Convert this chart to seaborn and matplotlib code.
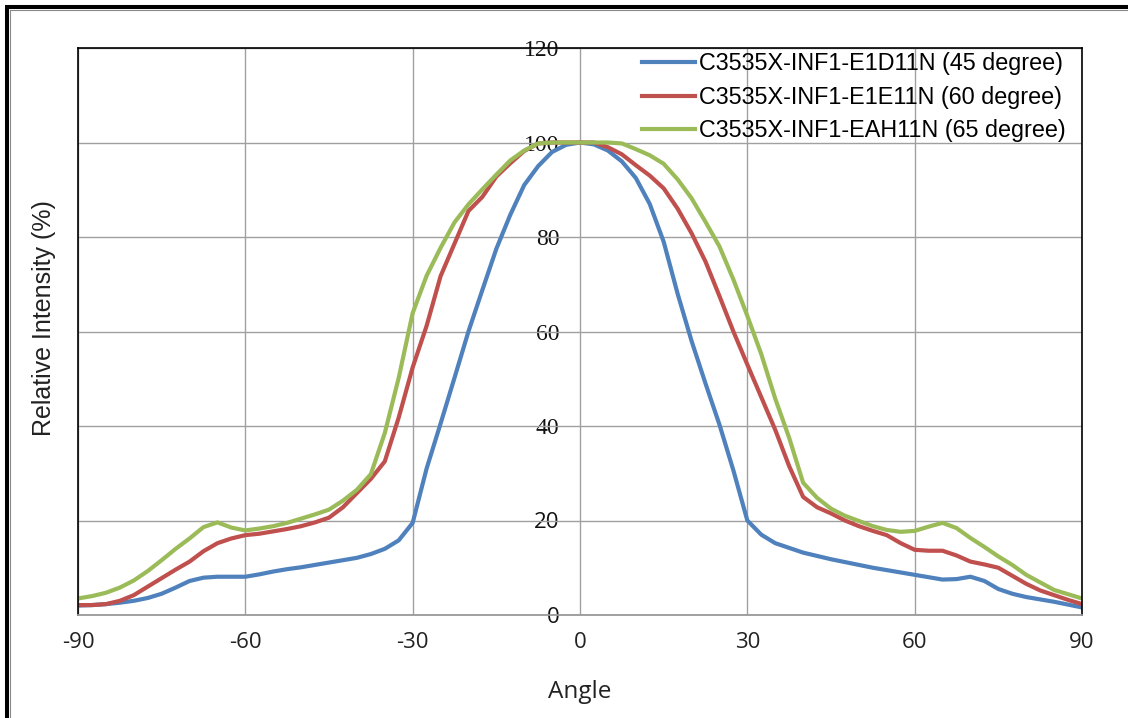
import numpy as np
import pandas as pd
import matplotlib
matplotlib.use("Agg")
import matplotlib.pyplot as plt
from matplotlib.lines import Line2D
import seaborn as sns

# ---------------- data ----------------
angles = np.arange(-90, 90.1, 2.5)

series_names = [
    "C3535X-INF1-E1D11N (45 degree)",
    "C3535X-INF1-E1E11N (60 degree)",
    "C3535X-INF1-EAH11N (65 degree)",
]

blue_45 = [2.0, 2.1, 2.3, 2.6, 3.0, 3.6, 4.5, 5.8, 7.2, 7.9,
           8.1, 8.1, 8.1, 8.6, 9.2, 9.7, 10.1, 10.6, 11.1, 11.6,
           12.1, 12.9, 14.0, 15.8, 19.5, 31.0, 40.5, 50.2, 60.0, 68.8,
           77.5, 84.7, 91.0, 95.0, 98.0, 99.5, 100.0, 99.6, 98.3, 96.0,
           92.5, 87.0, 79.0, 68.0, 58.0, 49.0, 40.3, 30.6, 20.0, 17.0,
           15.2, 14.2, 13.2, 12.5, 11.8, 11.2, 10.6, 10.0, 9.5, 9.0,
           8.5, 8.0, 7.5, 7.6, 8.1, 7.2, 5.5, 4.5, 3.8, 3.3,
           2.8, 2.2, 1.6]

red_60 = [2.1, 2.1, 2.3, 3.0, 4.2, 6.0, 7.8, 9.6, 11.3, 13.5,
          15.2, 16.2, 16.9, 17.2, 17.7, 18.2, 18.8, 19.6, 20.6, 22.8,
          25.8, 28.8, 32.5, 41.8, 52.4, 61.2, 71.7, 78.6, 85.5, 88.5,
          92.8, 95.6, 98.2, 99.8, 100.0, 100.0, 100.0, 100.0, 99.0, 97.5,
          95.2, 93.0, 90.3, 86.0, 80.8, 74.8, 67.5, 60.0, 53.0, 46.1,
          39.2, 31.5, 25.0, 22.8, 21.5, 20.0, 18.8, 17.8, 16.9, 15.2,
          13.8, 13.6, 13.6, 12.6, 11.3, 10.7, 10.0, 8.3, 6.6, 5.2,
          4.2, 3.2, 2.3]

green_65 = [3.5, 4.0, 4.7, 5.8, 7.3, 9.3, 11.6, 14.0, 16.2, 18.6,
            19.6, 18.5, 17.9, 18.3, 18.8, 19.5, 20.4, 21.3, 22.3, 24.2,
            26.5, 29.8, 38.5, 50.2, 63.9, 71.8, 77.7, 83.1, 86.9, 90.1,
            93.2, 96.2, 98.3, 99.8, 100.0, 100.0, 100.0, 100.0, 100.0, 99.8,
            98.6, 97.3, 95.5, 92.2, 88.2, 83.2, 78.0, 71.0, 63.3, 55.2,
            45.8, 37.5, 28.0, 24.8, 22.5, 21.0, 19.9, 18.8, 18.0, 17.6,
            17.8, 18.7, 19.5, 18.4, 16.3, 14.4, 12.4, 10.6, 8.5, 6.9,
            5.3, 4.4, 3.5]

x_ticks = [-90, -60, -30, 0, 30, 60, 90]
y_ticks = [0, 20, 40, 60, 80, 100, 120]
colors = ["#4F81BD", "#C0504D", "#9BBB59"]

df = pd.concat([
    pd.DataFrame({"Angle": angles, "Intensity": vals, "Series": name})
    for name, vals in zip(series_names, [blue_45, red_60, green_65])
], ignore_index=True)

# ---------------- figure ----------------
plt.rcParams["axes.unicode_minus"] = False
fig = plt.figure(figsize=(11.28, 7.18), dpi=100)
fig.patch.set_facecolor("white")
ax = fig.add_axes([78 / 1128, 103 / 718, 1004 / 1128, 567 / 718])

sns.lineplot(data=df, x="Angle", y="Intensity", hue="Series",
             hue_order=series_names, palette=colors, linewidth=3.0,
             estimator=None, sort=False, ax=ax, legend=True)
for ln in ax.get_lines():
    ln.set_solid_joinstyle("round")

ax.set_xlim(-90, 90)
ax.set_ylim(0, 120)
ax.set_xticks(x_ticks)
ax.set_yticks(y_ticks)
ax.set_yticklabels([])
ax.grid(True, color="#a0a0a0", linewidth=1.0)
ax.set_axisbelow(True)
ax.tick_params(axis="both", length=0)
ax.tick_params(axis="x", pad=12)
for lab in ax.get_xticklabels():
    lab.set_fontfamily("Open Sans")
    lab.set_fontsize(16)
    lab.set_color("#222222")

for side in ["left", "top", "right"]:
    ax.spines[side].set_color("black")
    ax.spines[side].set_linewidth(1.2)
ax.spines["bottom"].set_color("#999999")
ax.spines["bottom"].set_linewidth(1.3)

ax.set_xlabel("Angle", fontfamily="Open Sans", fontsize=17.5, color="#222222",
              labelpad=20)
ax.set_ylabel("Relative Intensity (%)", fontfamily="Liberation Sans",
              fontsize=18, color="#222222")
ax.yaxis.set_label_coords((56 - 78) / 1004, (615 - 318) / 567)

# y tick labels along the centre line (x = 0)
sec = ax.secondary_yaxis(0.5)
sec.set_alignment("left")
sec.set_yticks(y_ticks)
sec.tick_params(axis="y", length=0, pad=15)
sec.spines["left"].set_visible(False)
for lab, v in zip(sec.get_yticklabels(), y_ticks):
    if v >= 40:
        lab.set_fontfamily("Liberation Serif")
        lab.set_fontsize(17)
    else:
        lab.set_fontfamily("Open Sans")
        lab.set_fontsize(16)
    lab.set_color("#111111")

# legend
handles, labels = ax.get_legend_handles_labels()
leg = ax.legend(handles, labels, loc="upper left",
                bbox_to_anchor=((642 - 78) / 1004, 0.9925),
                frameon=False, borderpad=0, borderaxespad=0,
                handlelength=2.25, handletextpad=0.2, labelspacing=0.45,
                prop={"family": "Liberation Sans", "size": 16.8})
for line in leg.get_lines():
    line.set_linewidth(3.0)

# outer frame of the screenshot (left and top only)
W, H = 1128, 718
fig.add_artist(Line2D([7 / W, 7 / W], [0, 1 - 7 / H], transform=fig.transFigure,
                      color="black", linewidth=2.9, solid_capstyle="butt"))
fig.add_artist(Line2D([5 / W, 1], [1 - 7 / H, 1 - 7 / H], transform=fig.transFigure,
                      color="black", linewidth=2.9, solid_capstyle="butt"))
fig.add_artist(Line2D([9.8 / W, 9.8 / W], [0, 1 - 9.8 / H], transform=fig.transFigure,
                      color="#888888", linewidth=0.8))
fig.add_artist(Line2D([9.8 / W, 1], [1 - 9.8 / H, 1 - 9.8 / H], transform=fig.transFigure,
                      color="#888888", linewidth=0.8))

fig.savefig("out.png", dpi=100, facecolor="white")
